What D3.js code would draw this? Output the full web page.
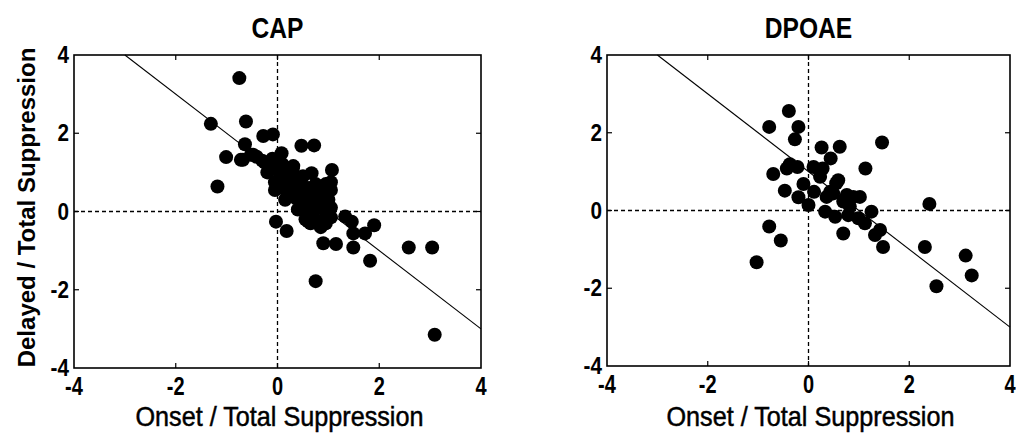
<!DOCTYPE html>
<html>
<head>
<meta charset="utf-8">
<script src="https://cdn.jsdelivr.net/npm/d3@7"></script>
<style>
  body { margin: 0; background: #fff; }
  svg { display: block; }
  text { font-family: "Liberation Sans", Arial, sans-serif; fill: #000; }
</style>
</head>
<body>
<div id="chart"></div>
<script>
// values
const ticks = [-4, -2, 0, 2, 4]
const innerTicks = [-2, 0, 2]
const fitSlope = -1
const fitIntercept = 1

const capX = [-0.75, -1.31, -0.62, -0.28, -0.09, -0.64, -1.01, -0.72, -1.18, -0.41, -0.52, 0.08, 0.47, 0.72, 1.07, 0.67, 0.31,
    -0.03, 0.18, 1.33, 1.46, 1.49, 1.72, 1.90, 1.49, 1.15, 0.90, 1.82, 0.75, 2.58, 3.04, 3.09, -0.25, -0.15, -0.48, -0.68,
    0.0, 0.1, -0.1, 0.15, 0.3, 0.05, -0.05, 0.2, 0.35, 0.1, 0.25, 0.4, 0.5, 0.45, 0.6, 0.55, 0.7, 0.65, 0.8, 0.75, 0.95,
    0.9, 1.05, 1.0, 0.85, 0.6, 0.7, 0.95, 1.05, 0.8, 0.95, 0.5, 0.35, 0.2, -0.05, 0.55, 1.05, 0.85, 0.15, -0.3, -0.2, -0.1,
    0.4, 0.6, 0.75, 1.0, 0.65, 1.05]
const capY = [3.41, 2.24, 2.30, 1.93, 1.97, 1.72, 1.39, 1.32, 0.64, 1.40, 1.45, 1.49, 1.68, 1.69, 1.06, 0.98, 1.16,
    -0.26, -0.50, -0.13, -0.26, -0.56, -0.56, -0.35, -0.92, -0.83, -0.81, -1.26, -1.78, -0.92, -0.92, -3.15, 1.25, 1.15, 1.45, 1.32,
    1.3, 1.2, 1.1, 1.0, 1.1, 0.9, 0.75, 0.85, 0.9, 0.6, 0.65, 0.75, 0.9, 0.55, 0.6, 0.4, 0.45, 0.25, 0.3, 0.7, 0.7,
    0.5, 0.55, 0.3, 0.1, 0.05, -0.1, 0.0, 0.1, -0.25, -0.3, 0.2, 0.35, 0.4, 0.55, -0.2, -0.15, -0.4, 0.3, 1.3, 1.0, 1.35,
    0.05, -0.25, 0.15, -0.05, -0.3, 0.75]

const dpoaeX = [-0.39, -0.78, -0.20, -0.27, 0.26, 0.62, 1.46, 0.44, -0.37, -0.22, -0.43, -0.70, 0.10, 0.28, 0.23, 1.13,
    -0.10, -0.47, -0.20, 0.0, 0.11, 0.36, 0.55, 0.59, 0.49, 0.76, 1.02, 0.69, 0.33, 0.53, 0.79, 0.99, 1.25, 1.12, 1.32,
    1.42, 1.48, 0.69, 2.40, 2.31, 3.12, 3.24, 2.54, -0.78, -0.55, -1.03, 0.89, 0.43, 0.82]
const dpoaeY = [2.56, 2.15, 2.15, 1.83, 1.62, 1.64, 1.75, 1.34, 1.19, 1.12, 1.08, 0.94, 1.12, 1.08, 0.87, 1.08,
    0.68, 0.51, 0.34, 0.14, 0.48, 0.35, 0.70, 0.78, 0.44, 0.40, 0.35, 0.23, -0.03, -0.16, -0.12, -0.20, -0.03, -0.33, -0.63,
    -0.50, -0.94, -0.59, 0.17, -0.94, -1.16, -1.67, -1.95, -0.41, -0.77, -1.33, 0.35, 0.48, 0.10]

const width = 1016
const height = 434

const svg = d3.select("#chart").append("svg")
    .attr("width", width)
    .attr("height", height)

const panels = [
    { title: "CAP", xs: capX, ys: capY, left: 74, right: 481, top: 55, bottom: 368, ylabel: true },
    { title: "DPOAE", xs: dpoaeX, ys: dpoaeY, left: 607, right: 1010, top: 55, bottom: 366, ylabel: false }
]

panels.forEach(p => drawPanel(p))

function drawPanel(p) {
    const x = d3.scaleLinear().domain([-4, 4]).range([p.left, p.right])
    const y = d3.scaleLinear().domain([-4, 4]).range([p.bottom, p.top])
    const g = svg.append("g")

    // zero lines
    g.append("line")
        .attr("x1", x(0)).attr("x2", x(0))
        .attr("y1", p.top).attr("y2", p.bottom)
        .attr("stroke", "#000").attr("stroke-width", 1.3)
        .attr("stroke-dasharray", "4,3")
    g.append("line")
        .attr("x1", p.left).attr("x2", p.right)
        .attr("y1", y(0)).attr("y2", y(0))
        .attr("stroke", "#000").attr("stroke-width", 1.3)
        .attr("stroke-dasharray", "4,3")

    // fit line, clipped to the box
    const x0 = Math.max(-4, Math.min((4 - fitIntercept) / fitSlope, (-4 - fitIntercept) / fitSlope))
    const x1 = 4
    g.append("line")
        .attr("x1", x(x0))
        .attr("y1", y(fitIntercept + fitSlope * x0))
        .attr("x2", x(x1))
        .attr("y2", y(fitIntercept + fitSlope * x1))
        .attr("stroke", "#000").attr("stroke-width", 1.1)

    // points
    g.append("g").selectAll("circle")
        .data(p.xs.map((v, i) => [v, p.ys[i]]))
        .enter().append("circle")
        .attr("cx", d => x(d[0]))
        .attr("cy", d => y(d[1]))
        .attr("r", 7)
        .attr("fill", "#000")

    // inward ticks on all four sides
    const tl = 5
    innerTicks.forEach(t => {
        g.append("line").attr("x1", x(t)).attr("x2", x(t)).attr("y1", p.bottom).attr("y2", p.bottom - tl).attr("stroke", "#000").attr("stroke-width", 1.2)
        g.append("line").attr("x1", x(t)).attr("x2", x(t)).attr("y1", p.top).attr("y2", p.top + tl).attr("stroke", "#000").attr("stroke-width", 1.2)
        g.append("line").attr("x1", p.left).attr("x2", p.left + tl).attr("y1", y(t)).attr("y2", y(t)).attr("stroke", "#000").attr("stroke-width", 1.2)
        g.append("line").attr("x1", p.right).attr("x2", p.right - tl).attr("y1", y(t)).attr("y2", y(t)).attr("stroke", "#000").attr("stroke-width", 1.2)
    })

    // frame
    g.append("rect")
        .attr("x", p.left).attr("y", p.top)
        .attr("width", p.right - p.left).attr("height", p.bottom - p.top)
        .attr("fill", "none").attr("stroke", "#000").attr("stroke-width", 1.6)

    // tick labels
    ticks.forEach(t => {
        g.append("text")
            .attr("transform", `translate(${x(t)},${p.bottom + 27}) scale(0.8,1)`)
            .attr("text-anchor", "middle")
            .style("font-size", "25px")
            .style("font-weight", "bold")
            .text(t)
        g.append("text")
            .attr("transform", `translate(${p.left - 5},${y(t) + 8}) scale(0.9,1)`)
            .attr("text-anchor", "end")
            .style("font-size", "23px")
            .style("font-weight", "bold")
            .text(t)
    })

    // title + x label
    g.append("text")
        .attr("transform", `translate(${(p.left + p.right) / 2},${38}) scale(0.82,1)`)
        .attr("text-anchor", "middle")
        .style("font-size", "30px")
        .style("font-weight", "bold")
        .text(p.title)
    g.append("text")
        .attr("transform", `translate(${(p.left + p.right) / 2 + 2},${426}) scale(0.9,1)`)
        .attr("text-anchor", "middle")
        .style("font-size", "28px")
        .style("stroke", "#000").style("stroke-width", 0.5)
        .text("Onset / Total Suppression")

    if (p.ylabel) {
        g.append("text")
            .attr("transform", `translate(${35},${(p.top + p.bottom) / 2 - 4}) rotate(-90)`)
            .attr("text-anchor", "middle")
            .style("font-size", "24px")
            .style("font-weight", "bold")
            .text("Delayed / Total Suppression")
    }
}
</script>
</body>
</html>
